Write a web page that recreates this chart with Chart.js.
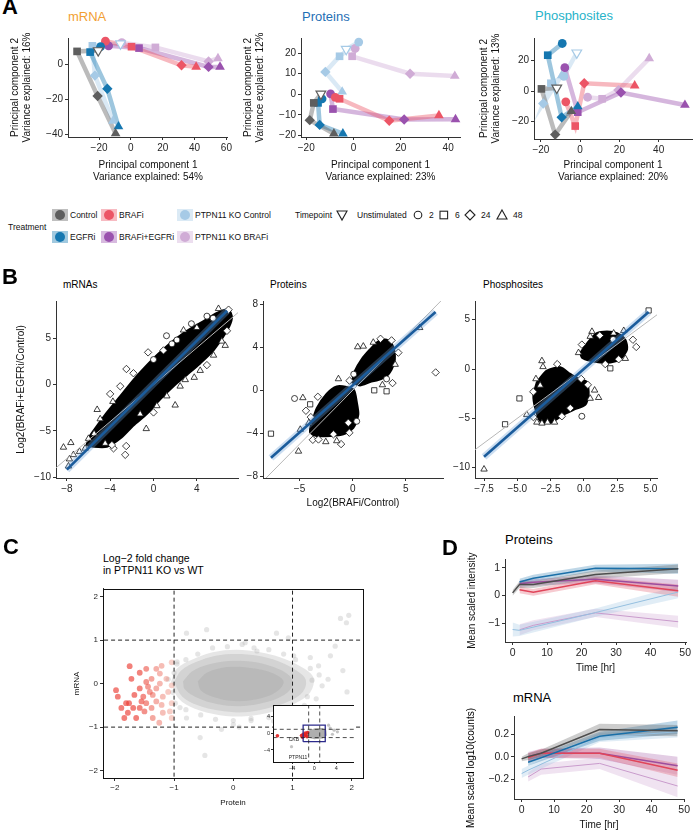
<!DOCTYPE html>
<html>
<head>
<meta charset="utf-8">
<title>PTPN11 KO figure</title>
<script src="https://cdn.jsdelivr.net/npm/chart.js@4.4.1/dist/chart.umd.min.js"></script>
<style>
  html, body { margin: 0; padding: 0; background: #fff; }
  body { position: relative; width: 696px; height: 832px; overflow: hidden; font-family: 'Liberation Sans', Arial, sans-serif; }
  canvas { position: absolute; }
  .t { position: absolute; white-space: nowrap; }
  #legend { position: absolute; left: 0; top: 200px; }
</style>
</head>
<body>
<svg id="legend" width="696" height="50"></svg>
<script>
// ---------- data: panel A (PCA, one array per treatment) ----------
const treatments = ['Control', 'EGFRi', 'BRAFi', 'BRAFi+EGFRi', 'PTPN11 KO Control', 'PTPN11 KO BRAFi'];
const timepoints = ['Unstimulated', '2', '6', '24', '48'];

const pcaMrnaControl = [{t:'U',x:-20.5,y:8.1},{t:6,x:-33.8,y:7.6},{t:24,x:-20.9,y:-18},{t:48,x:-9.6,y:-39.6}];
const pcaMrnaEgfr    = [{t:2,x:-19,y:10.4},{t:6,x:-25.6,y:7.2},{t:24,x:-14.8,y:-13.9},{t:48,x:-7.8,y:-35.6}];
const pcaMrnaBraf    = [{t:2,x:-16,y:13.5},{t:6,x:0.4,y:10.3},{t:24,x:31.8,y:-0.4},{t:48,x:41,y:-1.3}];
const pcaMrnaCombo   = [{t:2,x:-14,y:10.8},{t:6,x:5.1,y:9.5},{t:24,x:48.8,y:-1.3},{t:48,x:56,y:-1.3}];
const pcaMrnaKoCtrl  = [{t:'U',x:-6.5,y:12},{t:6,x:-24.2,y:10.8},{t:24,x:-22.6,y:-6.3},{t:48,x:-11.3,y:-32.4}];
const pcaMrnaKoBraf  = [{t:2,x:-5.7,y:12.6},{t:6,x:15.4,y:9.9},{t:24,x:48.8,y:1.8},{t:48,x:54.7,y:3.6}];

const pcaProtControl = [{t:'U',x:-13.8,y:0.2},{t:6,x:-16.8,y:-4.2},{t:24,x:-18.5,y:-12.6},{t:48,x:-8.3,y:-19.2}];
const pcaProtEgfr    = [{t:2,x:-13.3,y:-2.2},{t:6,x:-15,y:-4.2},{t:24,x:-14.3,y:-14.9},{t:48,x:-4.5,y:-19.2}];
const pcaProtBraf    = [{t:2,x:-7.7,y:-1.5},{t:6,x:-5.9,y:-2.2},{t:24,x:15.1,y:-12.9},{t:48,x:36.1,y:-10.3}];
const pcaProtCombo   = [{t:2,x:-9.7,y:0.2},{t:6,x:-8.7,y:-7.2},{t:24,x:21.4,y:-12.3},{t:48,x:43.1,y:-12.2}];
const pcaProtKoCtrl  = [{t:'U',x:-3.1,y:22},{t:2,x:2.2,y:25.4},{t:6,x:-5.9,y:18.5},{t:24,x:-11.9,y:10.9},{t:48,x:-4.8,y:1.2}];
const pcaProtKoBraf  = [{t:2,x:0.7,y:22.3},{t:6,x:-0.6,y:18.5},{t:24,x:23.9,y:10},{t:48,x:42.8,y:8.9}];

const pcaPhosControl = [{t:'U',x:-11.9,y:2},{t:6,x:-19.7,y:1.4},{t:24,x:-12.7,y:-28.6},{t:48,x:-4.5,y:-13.3}];
const pcaPhosEgfr    = [{t:2,x:-9.1,y:31.2},{t:6,x:-16.5,y:23.5},{t:24,x:-9.4,y:-17.3},{t:48,x:-1.2,y:-10.2}];
const pcaPhosBraf    = [{t:2,x:-7.3,y:-7.1},{t:6,x:-2.5,y:-23},{t:24,x:2.1,y:5.1},{t:48,x:27.8,y:3.5}];
const pcaPhosCombo   = [{t:2,x:-7.8,y:15.3},{t:6,x:-1.2,y:-13.9},{t:24,x:20.8,y:-1},{t:48,x:53.4,y:-9.2}];
const pcaPhosKoCtrl  = [{t:'U',x:-1.7,y:25.1},{t:2,x:-8.3,y:9.6},{t:6,x:-14.9,y:5.1},{t:24,x:-18.8,y:-8.2},{t:48,x:-9.4,y:10.2}];
const pcaPhosKoBraf  = [{t:2,x:3.8,y:-4.1},{t:6,x:11.2,y:-5.1},{t:24,x:19.5,y:0.6},{t:48,x:35.2,y:21.4}];

const aMrnaXTicks = [-20, 0, 20, 40, 60], aMrnaYTicks = [-40, -20, 0];
const aProtXTicks = [-20, 0, 20, 40],     aProtYTicks = [-20, -10, 0, 10, 20];
const aPhosXTicks = [-20, 0, 20, 40],     aPhosYTicks = [-20, 0, 20];

// ---------- data: panel B (dense core outline + edge points [x, y, timepoint]) ----------
const bMrnaCore = [[-5.85,-5.47],[-4.3,-3.0],[-3.07,-1.23],[-1.85,0.53],[-0.62,2.12],[0.62,3.53],[1.85,4.77],[3.08,5.83],[4.62,6.89],[5.85,7.77],[6.93,8.12],[7.24,7.24],[6.78,5.83],[5.54,3.71],[4.31,2.3],[3.08,1.06],[1.85,-0.17],[0.62,-1.59],[-0.62,-3.18],[-1.85,-4.41],[-3.07,-5.83],[-4.3,-6.71],[-5.54,-6.71],[-6.16,-6.53],[-5.85,-5.47]];
const bMrnaEdge = [[-8.31,-6.78,48],[-7.63,-6.28,48],[-7.76,-8.05,48],[-3.75,-1.83,48],[2.0,-2.22,48],[6.31,4.7,48],[3.76,0.78,48],[2.93,0.53,48],[-0.67,-4.77,48],
  [2.16,4.84,2],[0,2.72,2],[2.77,5.9,48],[4.0,6.18,48],[4.93,7.42,2],[6.0,8.23,48],[6.93,8.12,24],[-3.07,-0.17,24],[-1.85,1.24,24],[-4.92,-3.71,48],[-6.0,-5.83,48],[-5.48,-5.3,48],[1.7,4.42,2],[0.92,3.71,24],
  [-3.69,-6.89,24],[-2.61,-7.59,24],[-3.84,-6.53,24],[-4.46,-6.36,48],[-6.83,-7.24,48],[-6.31,-6.89,48],[-7.39,-7.59,48],[-7.85,-8.82,48],[-1.23,-3.18,48],[0,-3.0,24],[0.31,-2.29,48],[1.23,-1.23,48],[2.46,-0.17,48],[4.31,1.53,48],[4.93,2.12,24],[5.54,3.18,48],[6.78,5.83,24],[6.62,4.24,48],
  [-2.52,-6.64,24],[5.5,7.2,2],[3.5,6.6,2],[1.2,5.3,2],[-0.5,3.5,24],[-2.5,1.7,24],[-4.0,-1.0,24],[-5.2,-2.7,48]];
const bMrnaFit = [[-8.0,-9.2],[6.8,8.0]];
const bMrnaDiag = [[-9.0,-9.0],[7.8,7.8]];

const bProtCoreLow = [[-4.0,-3.49],[-3.38,-1.67],[-2.44,-0.31],[-1.5,0.36],[-0.56,0.3],[0.13,0.0],[0.38,-1.06],[0.53,-2.27],[0.06,-3.49],[-0.88,-4.09],[-2.13,-4.24],[-3.38,-4.24],[-4.0,-3.94],[-4.0,-3.49]];
const bProtCoreHigh = [[-0.09,0.75],[0.22,1.82],[0.84,2.88],[1.62,3.79],[2.41,4.55],[3.19,4.7],[3.81,4.09],[3.97,2.88],[3.5,1.67],[2.72,1.06],[1.62,0.76],[0.69,0.45],[-0.09,0.75]];
const bProtEdge = [[-7.69,-4.03,6],[7.81,1.66,24],[-5.47,-0.76,2],[-4.69,-0.7,48],[-5.1,-5.67,48],[-2.53,-4.79,48],[-4.93,-3.64,48],[-1.09,-5.0,24],[-3.75,-4.6,24],[-3.22,-4.57,24],[-4.0,-1.3,6],[-3.28,-0.6,24],[-1.34,1.06,48],[0.47,4.03,48],[1.0,4.09,48],[1.94,4.45,48],[2.62,4.79,24],[3.66,4.64,24],[2.03,0.0,6],[3.19,-0.09,6],[3.75,0.67,24],[3.19,1.06,2],[6.31,5.82,48],[-0.31,-3.94,24],[-0.41,-3.02,24],[0.38,-2.88,2],[-1.81,-4.09,24],[-1.5,-4.7,48],[-3.94,-2.49,24],[-4.13,-3.03,48],
  [-4.4,-1.9,24],[4.3,3.5,24],[4.0,2.4,48],[0.1,1.5,2],[-0.3,0.9,24],[2.8,0.5,48]];
const bProtFit = [[-7.69,-6.27],[7.8,7.27]];
const bProtDiag = [[-8.44,-8.44],[8.3,8.3]];

const bPhosCoreLow = [[-3.53,-1.32],[-2.78,-0.16],[-1.77,0.17],[-1.02,-0.5],[-0.4,-0.99],[0.23,-1.32],[0.36,-2.64],[0.11,-3.63],[-0.77,-4.13],[-1.52,-4.62],[-2.53,-5.44],[-3.28,-5.28],[-3.66,-3.96],[-3.79,-2.64],[-3.53,-1.32]];
const bPhosCoreHigh = [[-0.27,1.65],[0.36,2.81],[0.98,3.63],[1.74,3.8],[2.49,3.63],[3.12,2.97],[3.25,1.98],[2.74,0.99],[1.99,0.66],[1.23,0.66],[0.48,0.83],[-0.14,1.16],[-0.27,1.65]];
const bPhosEdge = [[-7.5,-10.16,48],[-5.92,-5.6,6],[-4.84,-2.98,6],[-3.15,0.83,48],[-3.07,0.23,48],[-4.29,-4.62,48],[-3.79,-4.88,24],[-3.53,-5.4,48],[-3.15,-5.5,48],[-2.73,-5.4,48],[-2.2,-5.4,48],[-1.65,-4.79,24],[-0.15,-4.79,2],[-1.02,-3.96,24],[0.48,-2.98,48],[1.11,-2.9,48],[0.81,-2.15,48],[-3.28,-1.65,48],[0.61,3.8,48],[0.48,3.3,48],[2.24,3.63,48],[3.0,3.89,48],[3.69,2.97,24],[3.94,2.24,24],[1.99,0.07,6],[2.62,0.99,24],[3.12,1.06,48],[-0.4,1.65,48],[-0.15,2.48,24],[1.61,0.5,24],[4.87,5.94,6],
  [-3.6,-1.0,48],[-3.8,-2.3,24],[-0.2,-1.0,24],[0.3,-1.6,24],[-2.0,0.5,24],[2.2,3.0,2],[1.2,3.4,24]];
const bPhosFit = [[-7.5,-8.9],[4.87,5.78]];
const bPhosDiag = [[-8.18,-8.18],[5.5,5.5]];

const bMrnaXTicks = [-8, -4, 0, 4], bMrnaYTicks = [-10, -5, 0, 5];
const bProtXTicks = [-5, 0, 5],     bProtYTicks = [-8, -4, 0, 4, 8];
const bPhosXTicks = [-7.5, -5, -2.5, 0, 2.5, 5], bPhosYTicks = [-10, -5, 0, 5];

// ---------- data: panel C (protein vs mRNA log2 FC) ----------
const cRed = [[-1.75,0.40],[-1.58,0.25],[-1.72,0.11],[-1.98,-0.15],[-1.95,-0.30],[-1.81,-0.45],[-1.78,-0.67],[-1.64,-0.79],[-1.58,-0.56],[-1.47,-0.45],[-1.38,-0.56],[-1.30,-0.41],[-1.21,-0.49],[-1.19,-0.30],[-1.10,-0.19],[-1.04,-0.04],[-1.13,0.11],[-1.24,0.23],[-1.38,0.11],[-1.44,-0.07],[-1.58,-0.11],[-1.67,-0.26],[-1.52,-0.30],[-1.36,-0.26],[-1.47,0.04],[-1.30,-0.11],[-1.04,-0.45],[-1.07,-0.64],[-1.04,-0.79],[-1.25,-0.90],[-1.5,-0.64],[-1.69,-0.56],[-1.84,-0.79],[-1.89,-0.56],[-1.47,0.34],[-1.30,0.34],[-1.04,0.49],[-1.21,0.41],[-1.19,-0.67],[-1.36,-0.79],[-1.76,-0.45],[-1.55,-0.41],[-1.24,0.0],[-1.41,-0.19]];
// density contours of the grey cloud, outermost first
const cGrayL1 = [[-1.05,0.05],[-0.95,0.35],[-0.7,0.55],[-0.35,0.72],[0.05,0.78],[0.45,0.72],[0.8,0.6],[1.1,0.42],[1.35,0.15],[1.3,-0.2],[1.05,-0.45],[0.65,-0.65],[0.2,-0.75],[-0.25,-0.72],[-0.65,-0.58],[-0.92,-0.35],[-1.05,0.05]];
const cGrayL2 = [[-1.0,0.03],[-0.88,0.3],[-0.62,0.5],[-0.3,0.64],[0.05,0.68],[0.42,0.64],[0.75,0.52],[1.02,0.34],[1.22,0.1],[1.18,-0.18],[0.95,-0.4],[0.6,-0.56],[0.18,-0.66],[-0.25,-0.62],[-0.6,-0.5],[-0.86,-0.3],[-1.0,0.03]];
const cGrayL3 = [[-0.85,0.05],[-0.7,0.28],[-0.42,0.44],[-0.08,0.52],[0.32,0.5],[0.68,0.38],[0.95,0.18],[1.0,-0.05],[0.85,-0.27],[0.55,-0.43],[0.12,-0.52],[-0.28,-0.47],[-0.62,-0.32],[-0.82,-0.13],[-0.85,0.05]];
const cGrayL4 = [[-0.6,0.05],[-0.45,0.25],[-0.1,0.38],[0.3,0.36],[0.65,0.25],[0.85,0.05],[0.72,-0.2],[0.4,-0.36],[0.0,-0.4],[-0.35,-0.3],[-0.55,-0.15],[-0.6,0.05]];
const cGrayPts = [[1.81,1.5],[1.95,1.57],[1.91,1.4],[1.72,0.86],[0.73,1.16],[0.93,1.05],[1.3,0.6],[1.44,0.41],[1.85,0.3],[1.33,0.08],[1.92,-0.19],[-0.48,-1.65],[0.85,-0.64],[-0.79,1.16],[-0.45,1.24],[0.2,0.94],[-0.79,-0.79],[0.0,-0.94],[0.68,-0.86],[1.13,-1.09],[-0.56,-1.24],[0.4,0.75],[1.02,0.64],[1.64,0.64],[-0.95,0.45],[1.25,-0.3],[-0.9,-0.55],[0.3,-0.8],
  [-0.8,0.55],[-0.6,0.68],[-0.35,0.82],[-0.1,0.85],[0.15,0.9],[0.35,0.82],[0.6,0.78],[0.85,0.68],[1.05,0.55],[-0.95,0.5],[1.3,0.35],[1.45,0.2],[1.5,-0.05],[1.4,-0.35],[1.2,-0.5],[1.6,0.1],
  [0.9,-0.62],[0.6,-0.78],[0.3,-0.85],[0.0,-0.85],[-0.3,-0.82],[-0.55,-0.72],[-0.8,-0.6],[0.1,-1.0],[-0.2,-1.05],[-1.0,0.25],[-1.02,-0.2],[-0.98,-0.45],[-1.1,0.1]];
const cTicks = [-2, -1, 0, 1, 2];
const cCutoffs = [-1, 1];

const insetCloud = [[-1.2,0.6],[0,1.2],[1.5,1.3],[2.2,0.8],[2.3,-0.5],[1.5,-1.2],[0,-1.4],[-1.1,-1.0],[-1.4,-0.2],[-1.2,0.6]];
const insetRed = [[-6.65,-0.58],[-2.3,-0.5],[-2.0,-0.2],[-1.8,-0.6],[-1.6,0.1],[-1.5,-0.4],[-1.3,-0.8],[-2.1,-0.9],[-1.2,0.2]];
const insetGray = [[-4.1,-3.2],[3.6,0.8],[2.6,2.0],[2.9,1.3],[3.3,-0.2],[4.2,0.4]];
const insetWindow = [[-2,-2],[2,-2],[2,2],[-2,2],[-2,-2]];
const insetLabels = [{text:'CKB', x:-4.6, y:-1.45}, {text:'PTPN11', x:-4.6, y:-5.8}];
const insetTicks = [-4, 0, 4];

// ---------- data: panel D (mean and spread over time) ----------
const dTimesCtrl = [0, 2, 6, 24, 48];
const dTimesTrt  = [2, 6, 24, 48];
const dTimesKo   = [0, 2, 24, 48];

const protControl = [0.09, 0.39, 0.39, 0.75, 0.96], protControlSd = [0.1, 0.12, 0.12, 0.15, 0.15];
const protEgfr    = [0.48, 0.62, 0.98, 0.96],       protEgfrSd    = [0.12, 0.12, 0.12, 0.18];
const protBraf    = [0.2, 0.11, 0.53, 0.17],        protBrafSd    = [0.12, 0.12, 0.13, 0.22];
const protCombo   = [0.42, 0.47, 0.58, 0.34],       protComboSd   = [0.12, 0.12, 0.14, 0.22];
const protKoCtrl  = [-1.23, -1.26, -0.62, 0.12],    protKoCtrlSd  = [0.25, 0.2, 0.15, 0.22];
const protKoBraf  = [-1.24, -1.08, -0.63, -0.95],   protKoBrafSd  = [0.2, 0.18, 0.15, 0.22];

const mrnaControl = [-0.02, 0.0, 0.03, 0.24, 0.23], mrnaControlSd = [0.02, 0.03, 0.03, 0.05, 0.05];
const mrnaEgfr    = [-0.05, -0.01, 0.18, 0.26],     mrnaEgfrSd    = [0.03, 0.03, 0.04, 0.06];
const mrnaBraf    = [-0.01, 0.03, 0.03, -0.12],     mrnaBrafSd    = [0.04, 0.04, 0.04, 0.06];
const mrnaCombo   = [0.0, 0.03, 0.03, -0.08],       mrnaComboSd   = [0.04, 0.04, 0.05, 0.08];
const mrnaKoCtrl  = [-0.15, -0.12, 0.17, 0.22],     mrnaKoCtrlSd  = [0.04, 0.04, 0.04, 0.05];
const mrnaKoBraf  = [-0.18, -0.11, -0.06, -0.26],   mrnaKoBrafSd  = [0.04, 0.05, 0.05, 0.1];

const dTimeTicks = [0, 10, 20, 30, 40, 50];
const dProtYTicks = [-1, 0, 1];
const dMrnaYTicks = [-0.2, 0, 0.2];

// ---------- styling ----------
const pcaColors = ['#5e5e5e', '#1577b0', '#ec5566', '#9a52ae', '#a6cae6', '#d0acd6'];
const lineColors = ['#4d4d4d', '#1a6fa8', '#e0455a', '#9c4d9e', '#94bfdf', '#c99bcc'];

Chart.defaults.font.family = "'Liberation Sans', Arial, sans-serif";
Chart.defaults.color = '#222';

const MINUS = '\u2212';
const fmtInt = v => String(v).replace('-', MINUS);
const fmt1 = v => Number(v).toFixed(1).replace('-', MINUS);
const pairs = a => a.map(p => ({ x: p[0], y: p[1], t: p[2] }));

function alpha(hex, a) {
  const n = parseInt(hex.slice(1), 16);
  return 'rgba(' + (n >> 16) + ',' + ((n >> 8) & 255) + ',' + (n & 255) + ',' + a + ')';
}

function text(str, x, cy, size, opts) {
  const d = document.createElement('div');
  d.className = 't';
  d.textContent = str;
  d.style.left = x + 'px';
  d.style.top = (cy - size / 2) + 'px';
  d.style.fontSize = size + 'px';
  d.style.lineHeight = size + 'px';
  Object.assign(d.style, opts || {});
  document.body.appendChild(d);
  return d;
}

// rotated (vertical) label centred on (cx, cy)
function vtext(str, cx, cy, size) {
  return text(str, cx, cy, size, { top: cy + 'px', transform: 'translate(-50%,-50%) rotate(-90deg)' });
}

function axis(min, max, ticks, size, fmt, title) {
  const ax = {
    type: 'linear', min, max,
    afterBuildTicks: s => { s.ticks = ticks.map(v => ({ value: v })); },
    ticks: { font: { size }, color: '#262626', padding: 2, maxRotation: 0, autoSkip: false, callback: fmt || fmtInt },
    grid: { drawOnChartArea: false, drawTicks: true, tickLength: 3, color: '#333', lineWidth: 1 },
    border: { display: true, color: '#333', width: 1 }
  };
  if (title) ax.title = title;
  return ax;
}

function axTitle(lines, size, pt, pb) {
  return { display: true, text: lines, font: { size }, color: '#111', padding: { top: pt, bottom: pb } };
}

// chart area in page pixels -> canvas placed so the plot area lands there
function makeChart(area, yW, xH, padT, padR, datasets, scales, plugins, pluginOpts) {
  const w = area.r - area.l + yW + padR, h = area.b - area.t + padT + xH;
  const c = document.createElement('canvas');
  c.width = w; c.height = h;
  c.style.left = (area.l - yW) + 'px'; c.style.top = (area.t - padT) + 'px';
  c.style.width = w + 'px'; c.style.height = h + 'px';
  document.body.appendChild(c);
  scales.x.afterFit = s => { s.height = xH; };
  scales.y.afterFit = s => { s.width = yW; };
  return new Chart(c, {
    type: 'scatter',
    data: { datasets },
    options: {
      responsive: false, devicePixelRatio: 1, animation: false, events: [],
      layout: { padding: { top: padT, right: padR, left: 0, bottom: 0 }, autoPadding: false },
      plugins: Object.assign({ legend: { display: false }, tooltip: { enabled: false } }, pluginOpts || {}),
      scales
    },
    plugins: plugins || []
  });
}

const shapeOf = t => (t === 2 ? 'circle' : t === 6 ? 'rect' : t === 24 ? 'rectRot' : 'triangle');
const raw = c => (c.raw || {});

// ---------- panel A ----------
function pcaDatasets(series) {
  const out = [];
  series.forEach((pts, i) => {
    const col = pcaColors[i];
    out.push({ type: 'line', data: pts, borderColor: alpha(col, 0.42), borderWidth: 4.5, pointRadius: 0, tension: 0, fill: false, order: 10, clip: false });
    out.push({
      data: pts, order: 1, clip: false,
      pointStyle: c => shapeOf(raw(c).t),
      pointRotation: c => (raw(c).t === 'U' ? 180 : 0),
      pointRadius: c => { const t = raw(c).t; return t === 2 ? 4.4 : t === 6 ? 5.4 : t === 24 ? 5.2 : 5.6; },
      pointBackgroundColor: c => (raw(c).t === 'U' ? '#fff' : col),
      pointBorderColor: col,
      pointBorderWidth: c => (raw(c).t === 'U' ? 1.2 : 0)
    });
  });
  return out;
}

function pcaChart(area, yW, ypad, xr, yr, xt, yt, series, varY, varX) {
  makeChart(area, yW, 185 - area.b, 2, 4, pcaDatasets(series), {
    x: axis(xr[0], xr[1], xt, 10, null, axTitle(['Principal component 1', 'Variance explained: ' + varX], 10, 0, 2)),
    y: axis(yr[0], yr[1], yt, 10, null, axTitle(['Principal component 2', 'Variance explained: ' + varY], 10, ypad, 0))
  });
}

pcaChart({ l: 68, t: 32, r: 230, b: 137 }, 64, 5, [-39.5, 61], [-41.6, 15.3], aMrnaXTicks, aMrnaYTicks,
  [pcaMrnaControl, pcaMrnaEgfr, pcaMrnaBraf, pcaMrnaCombo, pcaMrnaKoCtrl, pcaMrnaKoBraf], '16%', '54%');
pcaChart({ l: 301, t: 32, r: 460, b: 137 }, 60, 1, [-22.2, 45], [-20.8, 27.4], aProtXTicks, aProtYTicks,
  [pcaProtControl, pcaProtEgfr, pcaProtBraf, pcaProtCombo, pcaProtKoCtrl, pcaProtKoBraf], '12%', '23%');
pcaChart({ l: 534, t: 32, r: 692, b: 139 }, 60, 4, [-23.5, 57], [-31.5, 34.8], aPhosXTicks, aPhosYTicks,
  [pcaPhosControl, pcaPhosEgfr, pcaPhosBraf, pcaPhosCombo, pcaPhosKoCtrl, pcaPhosKoBraf], '13%', '20%');

text('mRNA', 68, 16, 13, { color: '#f2a032' });
text('Proteins', 302, 16, 13, { color: '#1f6fb5' });
text('Phosphosites', 535, 15, 13, { color: '#27b3c9' });

// legend
(function () {
  const svg = document.getElementById('legend');
  const NS = 'http://www.w3.org/2000/svg';
  const oy = 200;
  const el = (tag, attrs) => { const e = document.createElementNS(NS, tag); for (const k in attrs) e.setAttribute(k, attrs[k]); svg.appendChild(e); return e; };
  const txt = (s, x, cy) => { const e = el('text', { x, y: cy - oy, 'font-size': 8.5, 'dominant-baseline': 'central', fill: '#111' }); e.textContent = s; };
  txt('Treatment', 8, 227);
  // Control, EGFRi, BRAFi, BRAFi+EGFRi, KO Control, KO BRAFi
  const keyX = [60, 60, 109, 109, 185, 185];
  const keyY = [215, 237, 215, 237, 215, 237];
  treatments.forEach((name, i) => {
    el('rect', { x: keyX[i] - 8, y: keyY[i] - oy - 6, width: 16, height: 12, fill: alpha(pcaColors[i], 0.4) });
    el('circle', { cx: keyX[i], cy: keyY[i] - oy, r: 5, fill: pcaColors[i] });
    txt(name, keyX[i] + 10, keyY[i]);
  });
  txt('Timepoint', 295, 215);
  const cy = 215 - oy;
  const st = { fill: 'none', stroke: '#222', 'stroke-width': 1.1 };
  el('polygon', Object.assign({ points: `337,${cy - 4} 347,${cy - 4} 342,${cy + 5}` }, st));
  txt(timepoints[0], 357, 215);
  el('circle', Object.assign({ cx: 418, cy, r: 3.8 }, st));
  txt(timepoints[1], 429, 215);
  el('rect', Object.assign({ x: 440, y: cy - 3.8, width: 7.6, height: 7.6 }, st));
  txt(timepoints[2], 455, 215);
  el('polygon', Object.assign({ points: `470,${cy - 5} 475,${cy} 470,${cy + 5} 465,${cy}` }, st));
  txt(timepoints[3], 481, 215);
  el('polygon', Object.assign({ points: `502,${cy - 5} 507,${cy + 4} 497,${cy + 4}` }, st));
  txt(timepoints[4], 513, 215);
})();

// ---------- panel B ----------
function bDatasets(core, edge, fit, diag) {
  const ds = [
    { type: 'line', data: pairs(fit), borderColor: '#1b5c9c', borderWidth: 2.6, pointRadius: 0, order: 1 },
    { type: 'line', data: pairs(fit), borderColor: 'rgba(110,160,215,0.35)', borderWidth: 7, pointRadius: 0, order: 2 },
    { type: 'line', data: pairs(diag), borderColor: '#b8b8b8', borderWidth: 1, pointRadius: 0, order: 3 },
    {
      data: pairs(edge), order: 4, clip: false,
      pointStyle: c => shapeOf(raw(c).t),
      pointRadius: c => (raw(c).t === 2 ? 3 : 3.7),
      pointBackgroundColor: '#fff', pointBorderColor: '#111', pointBorderWidth: 0.8
    }
  ];
  core.forEach(poly => ds.push({ type: 'line', data: pairs(poly), fill: 'shape', backgroundColor: '#000', borderColor: '#000', borderWidth: 2, pointRadius: 0, tension: 0.25, order: 5 }));
  return ds;
}

makeChart({ l: 56, t: 297, r: 238, b: 478 }, 50, 20, 4, 4, bDatasets([bMrnaCore], bMrnaEdge, bMrnaFit, bMrnaDiag), {
  x: axis(-9, 7.8, bMrnaXTicks, 10),
  y: axis(-10.1, 9.06, bMrnaYTicks, 10, null, axTitle(['Log2(BRAFi+EGFRi/Control)'], 10, 9, 0))
});
makeChart({ l: 263, t: 297, r: 443, b: 478 }, 40, 33, 4, 4, bDatasets([bProtCoreLow, bProtCoreHigh], bProtEdge, bProtFit, bProtDiag), {
  x: axis(-8.44, 8.5, bProtXTicks, 10, null, axTitle(['Log2(BRAFi/Control)'], 10, 0, 2)),
  y: axis(-8.15, 8.3, bProtYTicks, 10)
});
makeChart({ l: 475, t: 297, r: 657, b: 478 }, 40, 20, 4, 8, bDatasets([bPhosCoreLow, bPhosCoreHigh], bPhosEdge, bPhosFit, bPhosDiag), {
  x: axis(-8.18, 5.5, bPhosXTicks, 10, fmt1),
  y: axis(-11.05, 6.9, bPhosYTicks, 10)
});

text('mRNAs', 63, 285, 10);
text('Proteins', 270, 285, 10);
text('Phosphosites', 483, 285, 10);

// ---------- panel C ----------
const boxPlugin = {
  id: 'box',
  beforeDatasetsDraw(chart, args, opts) {
    if (!opts.fill) return;
    const a = chart.chartArea, ctx = chart.ctx;
    ctx.save(); ctx.fillStyle = '#fff'; ctx.fillRect(a.left, a.top, a.right - a.left, a.bottom - a.top); ctx.restore();
  },
  afterDraw(chart) {
    const a = chart.chartArea, ctx = chart.ctx;
    ctx.save(); ctx.strokeStyle = '#111'; ctx.lineWidth = 1;
    ctx.strokeRect(Math.round(a.left) + 0.5, Math.round(a.top) + 0.5, Math.round(a.right - a.left), Math.round(a.bottom - a.top));
    ctx.restore();
  }
};

function cutoffLines(cut, lo, hi, w) {
  const ds = [];
  cut.forEach(v => {
    ds.push({ type: 'line', data: [{ x: v, y: lo }, { x: v, y: hi }], borderColor: '#222', borderWidth: w, borderDash: [4, 3], pointRadius: 0, order: 1 });
    ds.push({ type: 'line', data: [{ x: lo, y: v }, { x: hi, y: v }], borderColor: '#222', borderWidth: w, borderDash: [4, 3], pointRadius: 0, order: 1 });
  });
  return ds;
}

const redShade = c => {
  const x = raw(c).x;
  const k = Math.max(0, Math.min(1, (-x - 1) / 0.6));
  return 'rgba(' + 235 + ',' + Math.round(135 - 75 * k) + ',' + Math.round(115 - 65 * k) + ',' + (0.35 + 0.3 * k) + ')';
};

const cloudLayer = (poly, order) => ({ type: 'line', data: pairs(poly), fill: 'shape', backgroundColor: 'rgba(150,150,150,0.24)', borderWidth: 0, pointRadius: 0, tension: 0.35, order });

makeChart({ l: 103, t: 584, r: 363, b: 778 }, 33, 32, 2, 4, [
  ...cutoffLines(cCutoffs, -2.3, 2.3, 1),
  { data: pairs(cRed), pointRadius: 2.9, pointBackgroundColor: redShade, pointBorderWidth: 0, order: 2 },
  { data: pairs(cGrayPts), pointRadius: 2.6, pointBackgroundColor: 'rgba(175,175,175,0.32)', pointBorderWidth: 0, order: 3 },
  cloudLayer(cGrayL4, 4), cloudLayer(cGrayL3, 5), cloudLayer(cGrayL2, 6), cloudLayer(cGrayL1, 7)
], {
  x: axis(-2.2, 2.19, cTicks, 8, null, axTitle(['Protein'], 8, 0, 2)),
  y: axis(-2.17, 2.18, cTicks, 8, null, axTitle(['mRNA'], 8, 2, 0))
}, [boxPlugin]);

text('Log\u22122 fold change', 103, 558, 10.5);
text('in PTPN11 KO vs WT', 103, 570, 10.5);

const insetLabelPlugin = {
  id: 'insetLabels',
  afterDatasetsDraw(chart) {
    const ctx = chart.ctx, sx = chart.scales.x, sy = chart.scales.y;
    ctx.save(); ctx.font = "5px 'Liberation Sans', Arial, sans-serif"; ctx.fillStyle = '#222'; ctx.textBaseline = 'middle';
    insetLabels.forEach(l => ctx.fillText(l.text, sx.getPixelForValue(l.x), sy.getPixelForValue(l.y)));
    ctx.restore();
  }
};
const insetAxis = (min, max) => {
  const a = axis(min, max, insetTicks, 5.5);
  a.grid.tickLength = 2; a.ticks.padding = 1; a.border.display = false;
  return a;
};
makeChart({ l: 273, t: 701, r: 354, b: 762 }, 12, 11, 0, 0, [
  ...cutoffLines(cCutoffs, -7.5, 7.3, 0.8),
  { type: 'line', data: pairs(insetWindow), borderColor: '#2c2a8c', borderWidth: 1.3, pointRadius: 0, order: 1 },
  { data: pairs(insetRed), pointRadius: 1.8, pointBackgroundColor: 'rgba(225,30,30,0.9)', pointBorderWidth: 0, order: 2 },
  { data: pairs(insetGray), pointRadius: 1.6, pointBackgroundColor: 'rgba(170,170,170,0.7)', pointBorderWidth: 0, order: 3 },
  { type: 'line', data: pairs(insetCloud), fill: 'shape', backgroundColor: 'rgba(165,165,165,0.9)', borderWidth: 0, pointRadius: 0, order: 4 }
], { x: insetAxis(-7.45, 7.2), y: insetAxis(-6.9, 6.8) }, [boxPlugin, insetLabelPlugin], { box: { fill: true } });

// ---------- panel D ----------
function bandDatasets(times, mean, sd, i, thin) {
  const col = lineColors[i];
  return [
    { type: 'line', data: times.map((t, k) => ({ x: t, y: mean[k] })), borderColor: col, borderWidth: thin ? 1 : 1.5, pointRadius: 0, tension: 0, fill: false, order: 1 },
    { type: 'line', data: times.map((t, k) => ({ x: t, y: mean[k] + sd[k] })), borderWidth: 0, pointRadius: 0, tension: 0, fill: false, order: 2 },
    { type: 'line', data: times.map((t, k) => ({ x: t, y: mean[k] - sd[k] })), borderWidth: 0, pointRadius: 0, tension: 0, fill: '-1', backgroundColor: alpha(col, 0.28), order: 2 }
  ];
}

makeChart({ l: 505, t: 553, r: 687, b: 642 }, 41, 34, 2, 6, [
  ...bandDatasets(dTimesCtrl, protControl, protControlSd, 0),
  ...bandDatasets(dTimesTrt, protEgfr, protEgfrSd, 1),
  ...bandDatasets(dTimesTrt, protBraf, protBrafSd, 2),
  ...bandDatasets(dTimesTrt, protCombo, protComboSd, 3),
  ...bandDatasets(dTimesKo, protKoCtrl, protKoCtrlSd, 4, true),
  ...bandDatasets(dTimesTrt, protKoBraf, protKoBrafSd, 5, true)
], {
  x: axis(-2.2, 50.3, dTimeTicks, 10.5, null, axTitle(['Time [hr]'], 10, 0, 2)),
  y: axis(-1.68, 1.3, dProtYTicks, 10.5, null, axTitle(['Mean scaled intensity'], 10, 2, 0))
});

makeChart({ l: 514, t: 710, r: 686, b: 799 }, 51, 34, 2, 6, [
  ...bandDatasets(dTimesCtrl, mrnaControl, mrnaControlSd, 0),
  ...bandDatasets(dTimesTrt, mrnaEgfr, mrnaEgfrSd, 1),
  ...bandDatasets(dTimesTrt, mrnaBraf, mrnaBrafSd, 2),
  ...bandDatasets(dTimesTrt, mrnaCombo, mrnaComboSd, 3),
  ...bandDatasets(dTimesKo, mrnaKoCtrl, mrnaKoCtrlSd, 4, true),
  ...bandDatasets(dTimesTrt, mrnaKoBraf, mrnaKoBrafSd, 5, true)
], {
  x: axis(-2.34, 50, dTimeTicks, 10.5, null, axTitle(['Time [hr]'], 10, 0, 2)),
  y: axis(-0.375, 0.357, dMrnaYTicks, 10.5, fmt1)
});
vtext('Mean scaled log10(counts)', 471, 768, 10);

text('Proteins', 505, 539, 13);
text('mRNA', 513, 697, 13);

// panel letters
text('A', 2, 7, 22, { fontWeight: 'bold' });
text('B', 2, 277, 22, { fontWeight: 'bold' });
text('C', 3, 547, 22, { fontWeight: 'bold' });
text('D', 442, 548, 22, { fontWeight: 'bold' });
</script>
</body>
</html>
